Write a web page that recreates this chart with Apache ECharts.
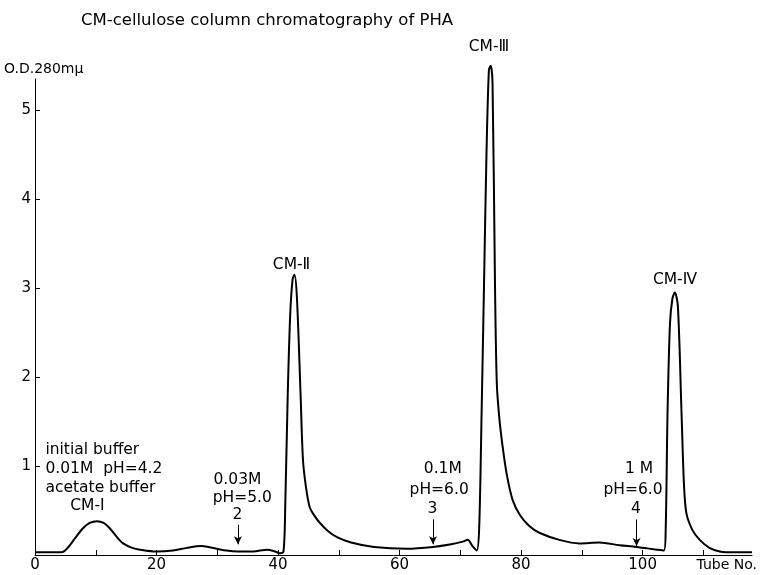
<!DOCTYPE html>
<html>
<head>
<meta charset="utf-8">
<script src="https://cdn.jsdelivr.net/npm/echarts@6/dist/echarts.min.js"></script>
<style>
  html, body { margin: 0; padding: 0; background: #fff; }
  #main { width: 760px; height: 575px; }
</style>
</head>
<body>
<div id="main"></div>
<script>
// elution profile (tube number, O.D. at 280 mμ)
var tubes = [0, 2, 4.4, 5.5, 6.5, 7.9, 9, 10.2, 11.3, 12.3, 13.5, 14.5, 16, 17.3, 19.9,
  22.7, 25, 27.4, 29.9, 31.5, 33.4, 35.9, 38.2, 39.5, 40.3, 40.9, 41.2, 41.6, 42, 42.4,
  42.7, 43.1, 43.7, 44.1, 44.6, 45.2, 46, 46.9, 48.2, 49.7, 52, 55.8, 61.2, 65.5, 68.5,
  70.4, 71.2, 72, 72.7, 73.1, 73.5, 73.9, 74.3, 74.7, 75, 75.3, 75.7, 76, 76.4, 76.9, 77.6,
  78.6, 79.8, 81.3, 83, 86.3, 89.6, 92.9, 96.2, 99, 102.3, 103.5, 103.8, 104.1, 104.5,
  104.9, 105.3, 105.8, 106.4, 106.8, 107.2, 108.2, 109.4, 111, 112.7, 115, 118];
var od = [0.03, 0.03, 0.03, 0.09, 0.18, 0.30, 0.36, 0.38, 0.36, 0.30, 0.20, 0.13, 0.08, 0.06, 0.04,
  0.05, 0.08, 0.10, 0.07, 0.05, 0.04, 0.04, 0.06, 0.04, 0.02, 0.04, 0.6, 1.82, 2.7, 3.1,
  3.15, 2.9, 1.82, 1.07, 0.76, 0.54, 0.44, 0.36, 0.27, 0.20, 0.14, 0.09, 0.07, 0.09, 0.12,
  0.15, 0.17, 0.10, 0.05, 0.3, 1.6, 3.05, 4.5, 5.45, 5.5, 5.3, 3.05, 1.93, 1.55, 1.25, 0.92,
  0.62, 0.45, 0.33, 0.25, 0.17, 0.13, 0.14, 0.11, 0.09, 0.06, 0.05, 0.3, 1.6, 2.6,
  2.88, 2.95, 2.8, 1.6, 0.8, 0.47, 0.28, 0.17, 0.08, 0.04, 0.03, 0.03];

var xTicks = [10, 20, 30, 40, 50, 60, 70, 80, 90, 100, 110];
var xLabels = [0, 20, 40, 60, 80, 100];
var yTicks = [1, 2, 3, 4, 5];

// annotations: [tube, O.D., text, align]
var notes = [
  [1.8, 1.18, 'initial buffer', 'left'],
  [1.8, 0.96, '0.01M  pH=4.2', 'left'],
  [1.8, 0.75, 'acetate buffer', 'left'],
  [8.7, 0.55, 'CM-I', 'center'],
  [33.4, 0.84, '0.03M', 'center'],
  [34.2, 0.64, 'pH=5.0', 'center'],
  [33.4, 0.44, '2', 'center'],
  [67.2, 0.96, '0.1M', 'center'],
  [66.6, 0.73, 'pH=6.0', 'center'],
  [65.5, 0.51, '3', 'center'],
  [99.5, 0.96, '1 M', 'center'],
  [98.5, 0.73, 'pH=6.0', 'center'],
  [99, 0.51, '4', 'center'],
  [42.3, 3.25, 'CM-Ⅱ', 'center'],
  [74.8, 5.7, 'CM-Ⅲ', 'center'],
  [105.4, 3.09, 'CM-Ⅳ', 'center']
];
// buffer change arrows: [tube, from, to]
var arrows = [[33.4, 0.34, 0.12], [65.5, 0.40, 0.12], [99, 0.40, 0.10]];

var font = 'DejaVu Sans';
var myChart = echarts.init(document.getElementById('main'));
myChart.setOption({
  animation: false,
  backgroundColor: '#fff',
  title: {
    text: 'CM-cellulose column chromatography of PHA',
    left: 76,
    top: 7,
    textStyle: { fontFamily: font, fontSize: 16.5, fontWeight: 'normal', color: '#000' }
  },
  graphic: [
    { type: 'text', left: 4, top: 62, style: { text: 'O.D.280mμ', font: '14px "DejaVu Sans"', fill: '#000' } },
    { type: 'text', right: 3, top: 558, style: { text: 'Tube No.', font: '14px "DejaVu Sans"', fill: '#000' } }
  ],
  grid: { left: 35, right: 8, top: 79, bottom: 20 },
  xAxis: {
    type: 'value',
    min: 0,
    max: 118,
    interval: 10,
    axisLine: { lineStyle: { color: '#000', width: 1 } },
    axisTick: { inside: true, length: 5, customValues: xTicks, lineStyle: { color: '#000' } },
    axisLabel: {
      customValues: xLabels, margin: 3, color: '#000', fontFamily: font, fontSize: 15,
      formatter: function (v) { return v % 20 === 0 && v <= 100 ? String(v) : ''; }
    },
    splitLine: { show: false }
  },
  yAxis: {
    type: 'value',
    min: 0,
    max: 5.35,
    interval: 1,
    axisLine: { show: true, lineStyle: { color: '#000', width: 1 } },
    axisTick: { show: true, inside: true, length: 5, customValues: yTicks, lineStyle: { color: '#000' } },
    axisLabel: {
      customValues: yTicks, margin: 4, color: '#000', fontFamily: font, fontSize: 15,
      formatter: function (v) { return v >= 1 && v <= 5 && v % 1 === 0 ? String(v) : ''; }
    },
    splitLine: { show: false }
  },
  series: [{
    type: 'line',
    data: tubes.map(function (t, i) { return [t, od[i]]; }),
    showSymbol: false,
    smooth: 0.3,
    clip: false,
    lineStyle: { color: '#000', width: 2 },
    markLine: {
      silent: true,
      symbol: ['none', 'arrow'],
      symbolSize: [6, 8],
      label: { show: false },
      lineStyle: { color: '#000', width: 1, type: 'solid' },
      data: arrows.map(function (a) {
        return [{ coord: [a[0], a[1]] }, { coord: [a[0], a[2]] }];
      })
    }
  }, {
    type: 'scatter',
    clip: false,
    silent: true,
    symbolSize: 1,
    itemStyle: { color: '#fff', opacity: 1 },
    label: {
      show: true,
      position: [0, 0],
      verticalAlign: 'middle',
      color: '#000',
      textBorderWidth: 0,
      fontFamily: font,
      fontSize: 15.5,
      formatter: function (p) { return p.data.text; }
    },
    data: notes.map(function (n) {
      return { value: [n[0], n[1]], text: n[2], label: { align: n[3] } };
    })
  }]
});
</script>
</body>
</html>
